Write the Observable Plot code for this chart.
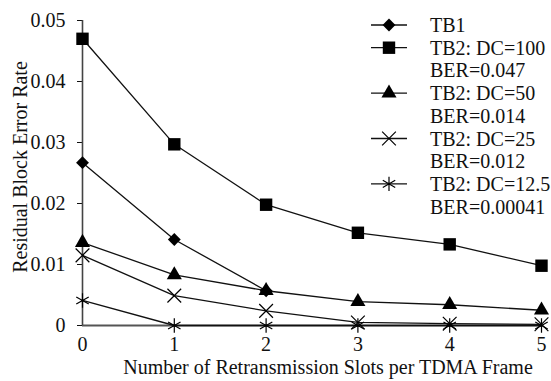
<!DOCTYPE html>
<html>
<head>
<meta charset="utf-8">
<script src="https://cdn.jsdelivr.net/npm/d3@7"></script>
<script src="https://cdn.jsdelivr.net/npm/@observablehq/plot@0.6"></script>
<style>
  html, body { margin: 0; padding: 0; background: #fff; }
  #wrap { position: relative; width: 551px; height: 381px; font-family: "Liberation Serif", "Times New Roman", serif; }
  #wrap svg { display: block; }
  #legend { position: absolute; left: 0; top: 0; }
</style>
</head>
<body>
<div id="wrap"></div>
<script>
// ---- data ----
const slots = [0, 1, 2, 3, 4, 5];
const tb1   = [0.0267, 0.0141, 0.0057];
const dc100 = [0.0470, 0.0297, 0.0198, 0.0152, 0.0133, 0.0098];
const dc50  = [0.0136, 0.0083, 0.0057, 0.0039, 0.0034, 0.0025];
const dc25  = [0.0115, 0.0049, 0.0024, 0.0005, 0.0003, 0.0002];
const dc125 = [0.0041, 0.0000, 0.0000, 0.0000, 0.0000, 0.0000];
const seriesNames = ["TB1", "TB2: DC=100", "TB2: DC=50", "TB2: DC=25", "TB2: DC=12.5"];
const legendLines = [
  ["TB1"],
  ["TB2: DC=100", "BER=0.047"],
  ["TB2: DC=50", "BER=0.014"],
  ["TB2: DC=25", "BER=0.012"],
  ["TB2: DC=12.5", "BER=0.00041"]
];
const yTicks = [0, 0.01, 0.02, 0.03, 0.04, 0.05];
const yTickLabels = ["0", "0.01", "0.02", "0.03", "0.04", "0.05"];
const xTicks = [0, 1, 2, 3, 4, 5];
const yTitle = "Residual Block Error Rate";
const xTitle = "Number of Retransmission Slots per TDMA Frame";

// ---- styles per series ----
const styles = [
  {symbol: d3.symbolDiamond2, r: 5.8, fill: "black", stroke: "none"},
  {symbol: d3.symbolSquare,   r: 7,   fill: "black", stroke: "none"},
  {symbol: d3.symbolTriangle, r: 5.6, fill: "black", stroke: "none"},
  {symbol: d3.symbolTimes,    r: 6.3, fill: "none",  stroke: "black"},
  {symbol: d3.symbolAsterisk, r: 6.8, fill: "none",  stroke: "black"}
];
const allValues = [tb1, dc100, dc50, dc25, dc125];
const rows = allValues.map((vals, i) => vals.map((v, j) => ({series: seriesNames[i], x: slots[j], y: v})));

const FONT = '"Liberation Serif", "Times New Roman", serif';
const FS = 20;

const marks = [
  Plot.ruleY([0], {stroke: "#555", strokeWidth: 2.2}),
  Plot.ruleX([0], {stroke: "#444", strokeWidth: 1.6}),
];
rows.forEach((data, i) => {
  marks.push(Plot.line(data, {x: "x", y: "y", stroke: "#111", strokeWidth: 1.3}));
});
rows.forEach((data, i) => {
  const s = styles[i];
  marks.push(Plot.dot(data, {x: "x", y: "y", symbol: s.symbol, r: s.r, fill: s.fill, stroke: s.stroke, strokeWidth: 1.2}));
});
marks.push(Plot.text([yTitle], {frameAnchor: "left", textAnchor: "middle", lineAnchor: "middle", rotate: -90, dx: -62, dy: -6, fontSize: FS, text: d => d}));
marks.push(Plot.text([xTitle], {frameAnchor: "bottom", textAnchor: "middle", lineAnchor: "middle", dx: 16, dy: 42, fontSize: FS, text: d => d}));

const chart = Plot.plot({
  width: 551,
  height: 381,
  marginLeft: 82,
  marginRight: 10,
  marginTop: 20,
  marginBottom: 56,
  style: {fontFamily: FONT, fontSize: FS + "px", background: "white", color: "#111"},
  x: {domain: [0, 5], ticks: xTicks, tickSize: 0, tickPadding: 11, tickFormat: d => String(d), label: null},
  y: {domain: [0, 0.05], ticks: yTicks, tickSize: 5, tickPadding: 12,
      tickFormat: d => yTickLabels[yTicks.findIndex(t => Math.abs(t - d) < 1e-9)], label: null},
  marks
});
document.getElementById("wrap").appendChild(chart);

// ---- legend (drawn with d3, same symbols) ----
const leg = d3.select("#wrap").append("svg").attr("id", "legend")
  .attr("width", 551).attr("height", 381)
  .style("font-family", FONT).style("font-size", FS + "px");
const lineH = 22.7;
let row = 0;
const lgX = 389, lgText = 430, lgTop = 25;
legendLines.forEach((lines, i) => {
  const y = lgTop + row * lineH;
  const s = styles[i];
  leg.append("line").attr("x1", lgX - 18).attr("x2", lgX + 18).attr("y1", y).attr("y2", y)
    .attr("stroke", "#111").attr("stroke-width", 1.3);
  leg.append("path").attr("transform", `translate(${lgX},${y})`)
    .attr("d", d3.symbol(s.symbol, s.r * s.r * Math.PI)())
    .attr("fill", s.fill).attr("stroke", s.stroke).attr("stroke-width", 1.2);
  lines.forEach((t, k) => {
    leg.append("text").attr("x", lgText).attr("y", lgTop + (row + k) * lineH)
      .attr("dy", "0.35em").attr("fill", "#111").text(t);
  });
  row += lines.length;
});
</script>
</body>
</html>
